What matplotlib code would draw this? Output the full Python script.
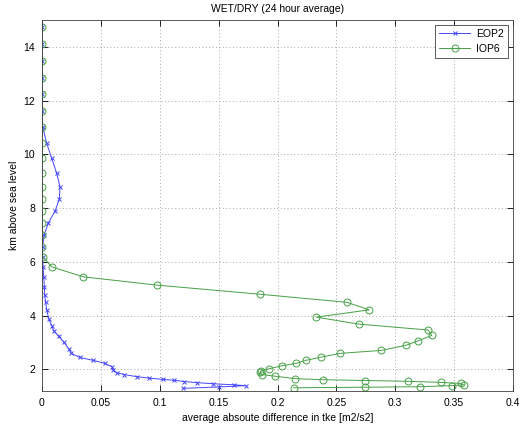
import matplotlib
matplotlib.use('Agg')
import matplotlib.pyplot as plt
import numpy as np

plt.rcParams['font.family'] = ['Liberation Sans', 'DejaVu Sans']
plt.rcParams['font.size'] = 7.5

# shared upper model levels (km)
upper_km = [5.81, 6.19, 6.56, 6.99, 7.45, 7.88, 8.33, 8.79, 9.29, 9.85,
            10.41, 11.01, 11.62, 12.23, 12.85, 13.49, 14.11, 14.74]

# EOP2 profile, bottom to top
eop2_km = [1.29, 1.34, 1.39, 1.42, 1.46, 1.50, 1.54, 1.59, 1.62, 1.67,
           1.72, 1.80, 1.87, 1.97, 2.09, 2.22, 2.33, 2.44, 2.59, 2.76,
           3.00, 3.22, 3.42, 3.60, 3.88, 4.22, 4.52, 4.76, 5.07, 5.44] + upper_km
eop2_tke = [0.120, 0.150, 0.173, 0.163, 0.145, 0.132, 0.121, 0.112, 0.103, 0.091,
            0.081, 0.070, 0.0636, 0.0605, 0.0596, 0.0534, 0.0434, 0.032, 0.025, 0.0227,
            0.0187, 0.0142, 0.0102, 0.0085, 0.0057, 0.0040, 0.0030, 0.0023, 0.0020, 0.0015,
            0.0009, 0.0005, 0.0006, 0.0017, 0.0054, 0.0110, 0.0147, 0.0153, 0.0125, 0.0083,
            0.0040, 0.0006, 0.0002, 0.0001, 0.0001, 0.0001, 0.0001, 0.0001]

# IOP6 profile, bottom to top
iop6_km = [1.31, 1.33, 1.35, 1.39, 1.42, 1.47, 1.51, 1.55, 1.58, 1.61,
           1.65, 1.74, 1.80, 1.88, 1.94, 2.02, 2.13, 2.22, 2.33, 2.45,
           2.59, 2.70, 2.89, 3.05, 3.26, 3.46, 3.68, 3.94, 4.21, 4.49,
           4.79, 5.13, 5.44] + upper_km
iop6_tke = [0.2136, 0.274, 0.321, 0.348, 0.358, 0.356, 0.339, 0.311, 0.274, 0.239,
            0.215, 0.198, 0.187, 0.185, 0.186, 0.193, 0.204, 0.216, 0.224, 0.237,
            0.253, 0.288, 0.309, 0.319, 0.331, 0.328, 0.269, 0.233, 0.278, 0.259,
            0.1855, 0.098, 0.035, 0.0083, 0.0005, 0.0002, 0.0001, 0.0001, 0.0001, 0.0001,
            0.0001, 0.0001, 0.0001, 0.0001, 0.0001, 0.0001, 0.0001, 0.0001, 0.0001, 0.0001,
            0.0001]

fig = plt.figure(figsize=(5.23, 4.30), dpi=100)
ax = fig.add_axes([0.0803, 0.0907, 0.9006, 0.8628])

ax.plot(eop2_tke, eop2_km, color='#4646ff', lw=0.7, marker='x', ms=3.5,
        mew=0.7, label='EOP2')
ax.plot(iop6_tke, iop6_km, color='#46a046', lw=0.7, marker='o', ms=5,
        mfc='none', mew=0.7, label='IOP6')

ax.set_xlim(0, 0.4)
ax.set_ylim(1.19, 15.0)
ax.set_xticks(np.arange(0, 0.401, 0.05))
ax.set_xticklabels(['0', '0.05', '0.1', '0.15', '0.2', '0.25', '0.3', '0.35', '0.4'])
ax.set_yticks([2, 4, 6, 8, 10, 12, 14])

ax.grid(True, linestyle=(0, (1, 2.5)), color='#a8a8a8', lw=0.7)
ax.tick_params(direction='in', top=True, right=True, length=4, width=0.6,
               labelsize=7.5, pad=5)
for s in ax.spines.values():
    s.set_linewidth(0.6)
    s.set_color('#404040')

ax.set_title('WET/DRY (24 hour average)', fontsize=7.5, pad=6)
ax.set_xlabel('average absoute difference in tke [m2/s2]', fontsize=7.5, labelpad=4)
ax.set_ylabel('km above sea level', fontsize=7.5, labelpad=3)

leg = ax.legend(loc='upper right', fontsize=7.5, fancybox=False, framealpha=1,
                edgecolor='#404040', borderaxespad=0.45, handlelength=3.0,
                borderpad=0.4, labelspacing=0.45, handletextpad=0.6)
leg.get_frame().set_linewidth(0.6)

fig.savefig('out.png', dpi=100)
